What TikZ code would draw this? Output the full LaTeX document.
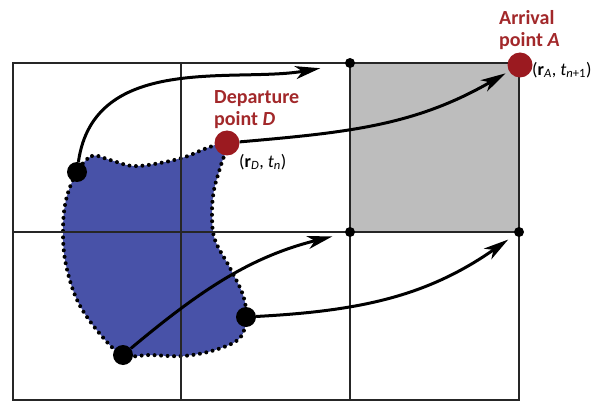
\documentclass[tikz,border=0pt]{standalone}
\usepackage{fontspec}
\setmainfont{Carlito}
\usepackage{xcolor}
\usetikzlibrary{arrows.meta}
\definecolor{blobblue}{RGB}{72,82,168}
\definecolor{ptred}{RGB}{155,26,32}
\definecolor{txtred}{RGB}{162,40,42}
\definecolor{cellgray}{RGB}{189,189,189}
\tikzset{
  grd/.style={line width=1.5pt,black!85},
  blb/.style={fill=blobblue,dash pattern=on 0pt off 6.5pt,line cap=round,line width=4pt},
  trj/.style={line width=3pt,-{Stealth[length=25pt,width=13pt,inset=7pt]}},
  dotb/.style={circle,fill=black,minimum size=20pt,inner sep=0pt},
  dots/.style={circle,fill=black,minimum size=10pt,inner sep=0pt},
  dotr/.style={circle,fill=ptred,minimum size=25pt,inner sep=0pt},
  lbl/.style={font=\fontsize{20}{22}\selectfont\bfseries,text=txtred,align=left,inner sep=0pt},
  crd/.style={font=\fontsize{18}{20}\selectfont,inner sep=0pt}
}

\begin{document}
\begin{tikzpicture}[x=1pt,y=1pt]
\useasboundingbox (0,0) rectangle (599,402);
\fill[cellgray] (350,170) rectangle (519,339);
% source region
\draw[blb] plot[smooth cycle,tension=0.6] coordinates {
  (77,230) (92,246) (110,242) (133,236) (160,239) (185,245) (207,254)
  (227,259) (221,237) (214,212) (212,187) (215,162) (230,134) (243,107)
  (246,85) (240,64) (215,52) (183,46) (150,47) (123,47) (100,68)
  (78,100) (66,137) (63,170) (66,202)};
% mesh
\draw[grd] (13,2) rectangle (519,339);
\draw[grd] (181,2) -- (181,339);
\draw[grd] (350,2) -- (350,339);
\draw[grd] (13,170) -- (519,170);
% grid points and departure points
\node[dots] (c1) at (350,339) {};
\node[dots] (c2) at (350,170) {};
\node[dots] (c3) at (519,170) {};
\node[dotr] (A) at (520,337) {};
\node[dotr] (D) at (227,259) {};
\node[dotb] (p1) at (77,230) {};
\node[dotb] (p3) at (123,47) {};
\node[dotb] (p4) at (246,85) {};
% trajectories
\draw[trj,shorten >=25pt] (p1) to[out=82,in=190] (c1);
\draw[trj,shorten >=4pt] (D) to[out=5,in=210] (A);
\draw[trj,shorten >=13pt] (p3) to[out=40,in=194] (c2);
\draw[trj,shorten >=8pt] (p4) to[out=3,in=215] (c3);
% labels
\node[lbl,anchor=north west] (dtxt) at (214,312) {Departure\\point \textit{D}};
\node[lbl,anchor=north west] (atxt) at (499,392) {Arrival\\point \textit{A}};
\node[crd,anchor=west] (dcrd) at (239,240) {(\textbf{r}\textsubscript{\textit{D}}, \textit{t}\textsubscript{\textit{n}})};
\node[crd,anchor=west] (acrd) at (532,332) {(\textbf{r}\textsubscript{\textit{A}}, \textit{t}\textsubscript{\textit{n}+1})};
\end{tikzpicture}
\end{document}
